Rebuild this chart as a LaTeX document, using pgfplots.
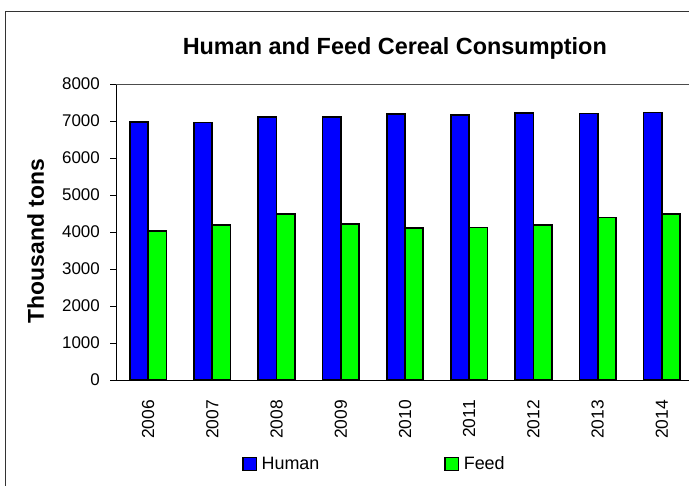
\documentclass[border=0pt]{standalone}
\usepackage{fontspec}
\setmainfont{Liberation Sans}
\usepackage{pgfplots}
\usepackage{pgfplotstable}
\pgfplotsset{compat=1.18}

\definecolor{human}{RGB}{0,0,255}
\definecolor{feed}{RGB}{0,255,0}

% thousand tons, 2006--2014
\pgfplotstableread{
idx year human feed
0 2006 6980 4030
1 2007 6960 4190
2 2008 7100 4490
3 2009 7100 4220
4 2010 7180 4110
5 2011 7160 4120
6 2012 7210 4180
7 2013 7200 4390
8 2014 7230 4490
}\cereal

\begin{document}
\begin{tikzpicture}
    % outer chart frame (cut by the picture on the right and bottom)
    \draw[line width=1bp, black!80] (5.5bp,-11bp) rectangle (720bp,-520bp);

    \node[font=\bfseries\fontsize{23.5}{26}\selectfont, anchor=base]
        at (394.8bp,-54.3bp) {Human and Feed Cereal Consumption};
    \node[rotate=90, font=\bfseries\fontsize{23}{26}\selectfont]
        at (35.8bp,-241bp) {Thousand tons};

    \begin{axis}[
            at={(116bp,-380bp)}, anchor=south west,
            scale only axis,
            width=578bp, height=296bp,
            xmin=-0.5, xmax=8.5,
            ymin=0, ymax=8000,
            ybar, bar width=0.285,
            axis x line*=bottom, axis y line*=left,
            axis line style={-, black, line width=0.8bp},
            xtick=data,
            xticklabels={2006,2007,2008,2009,2010,2011,2012,2013,2014},
            xtick style={draw=none},
            xticklabel style={rotate=90, anchor=east, inner sep=0pt,
                font=\fontsize{17.5}{18}\selectfont},
            xticklabel shift=14bp,
            ytick={0,1000,...,8000},
            ytick align=outside,
            major tick length=6bp,
            ytick style={black, line width=0.8bp},
            yticklabel style={anchor=east, inner sep=0pt,
                font=\fontsize{17}{18}\selectfont},
            yticklabel shift=10bp,
            scaled y ticks=false,
            /pgf/number format/1000 sep={},
            /pgf/number format/assume math mode=true,
            legend columns=2,
            legend image code/.code={
                \draw[#1, line width=1.3bp] (0bp,-6.6bp) rectangle (13.4bp,6.6bp);},
            legend style={at={(0.218,-0.2838)}, anchor=west,
                draw=none, fill=none, inner sep=0pt,
                font=\fontsize{18}{20}\selectfont,
                nodes={inner sep=0pt},
                /tikz/every odd column/.append style={column sep=4.7bp},
                /tikz/every even column/.append style={column sep=125bp}},
        ]
        \addplot[bar shift=-0.1425, fill=human, draw=black, line width=1.7bp]
            table[x=idx, y=human] {\cereal};
        \addlegendentry{Human}
        \addplot[bar shift=0.1425, fill=feed, draw=black, line width=1.7bp]
            table[x=idx, y=feed] {\cereal};
        \addlegendentry{Feed}

        % grey plot-area border at the top
        \draw[black!70, line width=0.8bp] (rel axis cs:0,1) -- (rel axis cs:1,1);
    \end{axis}

    \pgfresetboundingbox
    \path[use as bounding box] (0,0) rectangle (689bp,-486bp);
\end{tikzpicture}
\end{document}
